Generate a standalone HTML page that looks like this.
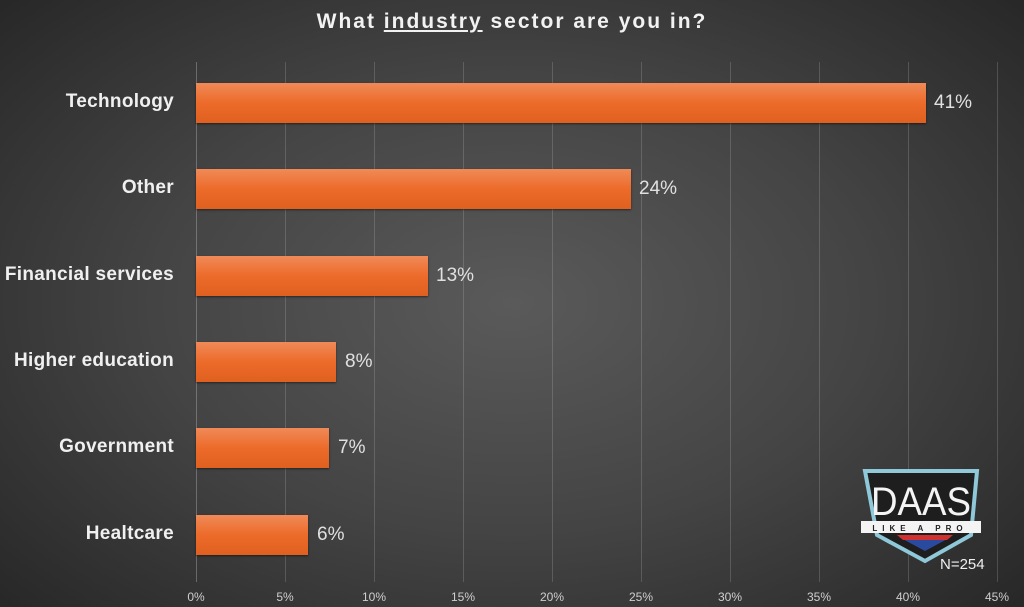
<!DOCTYPE html>
<html><head><style>
html,body{margin:0;padding:0}
body{width:1024px;height:607px;overflow:hidden;background:radial-gradient(ellipse 70% 75% at 50% 50%,#5a5a5a 0%,#444 50%,#262626 100%);font-family:"Liberation Sans",sans-serif;position:relative}
.t{position:absolute;left:0;width:1024px;top:10px;text-align:center;color:#f2f2f2;font-weight:bold;font-size:21px;letter-spacing:2px}
.g{position:absolute;top:62px;height:520px;width:1px;background:rgba(200,200,200,0.22)}
.bar{position:absolute;left:196px;height:40px;background:linear-gradient(#f08a58,#ec6b2a 50%,#e0601f);box-shadow:0 1px 2px rgba(0,0,0,.5)}
.v{position:absolute;color:#e0e0e0;font-size:19px}
.c{position:absolute;right:850px;color:#f0f0f0;font-weight:bold;font-size:19px;white-space:nowrap;letter-spacing:0.3px}
.x{position:absolute;top:590px;color:#cfcfcf;font-size:12px;width:40px;margin-left:-20px;text-align:center}
</style></head><body>
<div class="t">What <u>industry</u> sector are you in?</div>
<div class="g" style="left:196px;background:rgba(200,200,200,0.35)"></div>
<div class="g" style="left:285px"></div><div class="g" style="left:374px"></div><div class="g" style="left:463px"></div><div class="g" style="left:552px"></div><div class="g" style="left:641px"></div><div class="g" style="left:730px"></div><div class="g" style="left:819px"></div><div class="g" style="left:908px"></div><div class="g" style="left:997px"></div>
<div class="bar" style="top:83px;width:730px"></div><div class="v" style="left:934px;top:92px">41%</div><div class="c" style="top:91px">Technology</div>
<div class="bar" style="top:169px;width:435px"></div><div class="v" style="left:639px;top:178px">24%</div><div class="c" style="top:177px">Other</div>
<div class="bar" style="top:256px;width:232px"></div><div class="v" style="left:436px;top:265px">13%</div><div class="c" style="top:264px">Financial services</div>
<div class="bar" style="top:342px;width:140px"></div><div class="v" style="left:345px;top:351px">8%</div><div class="c" style="top:350px">Higher education</div>
<div class="bar" style="top:428px;width:133px"></div><div class="v" style="left:338px;top:437px">7%</div><div class="c" style="top:436px">Government</div>
<div class="bar" style="top:515px;width:112px"></div><div class="v" style="left:317px;top:524px">6%</div><div class="c" style="top:523px">Healtcare</div>
<div class="x" style="left:196px">0%</div><div class="x" style="left:285px">5%</div><div class="x" style="left:374px">10%</div><div class="x" style="left:463px">15%</div><div class="x" style="left:552px">20%</div><div class="x" style="left:641px">25%</div><div class="x" style="left:730px">30%</div><div class="x" style="left:819px">35%</div><div class="x" style="left:908px">40%</div><div class="x" style="left:997px">45%</div>
<svg style="position:absolute;left:855px;top:465px" width="130" height="100">
<path d="M10 6 H122 L116 70 L70 96 L22 70 Z" fill="#1e1e1e" stroke="#8fc8d8" stroke-width="4"/>
<text x="66" y="50" text-anchor="middle" font-family="Liberation Sans" font-size="40" fill="#f4f4f4" textLength="100" lengthAdjust="spacingAndGlyphs">DAAS</text>
<rect x="6" y="56" width="120" height="12" fill="#f4f4f4"/>
<text x="65" y="66" text-anchor="middle" font-family="Liberation Sans" font-size="8" font-weight="bold" letter-spacing="5" fill="#222">LIKE A PRO</text>
<path d="M44 72 H96 L70 86 Z" fill="#2a4aa0"/><path d="M42 70 H98 L92 75 H48Z" fill="#d03030"/>
</svg>
<div style="position:absolute;left:940px;top:556px;color:#f0f0f0;font-size:15px">N=254</div>
</body></html>
